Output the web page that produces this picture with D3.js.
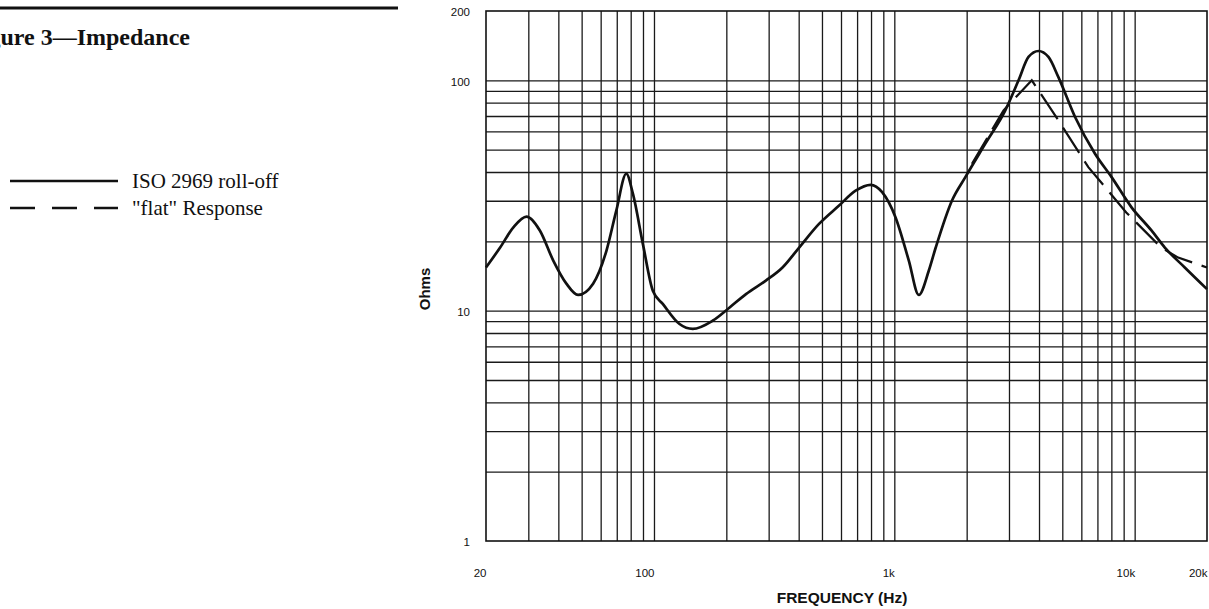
<!DOCTYPE html>
<html>
<head>
<meta charset="utf-8">
<script src="https://cdn.jsdelivr.net/npm/d3@7"></script>
<style>
  body { margin: 0; background: #fff; }
  svg { display: block; }
</style>
</head>
<body>
<div id="chart"></div>
<script>
// impedance curves
const freqSolid = [20, 22.9, 26, 29.5, 33.5, 38.1, 43.2, 48.3, 55.8, 63.4, 69.7, 76.7, 81.7, 89.9, 98.9,
  108.8, 127.7, 145, 175.5, 205.8, 241.4, 292, 342.6, 401.8, 486, 589, 690, 797, 890, 1012, 1149, 1264,
  1391, 1487, 1738, 1975, 2392, 2896, 3288, 3617, 3980, 4378, 4816, 5650, 6841, 8018, 9705, 11746,
  13352, 16162, 20000];
const ohmsSolid = [15.4, 18.8, 23.0, 25.6, 22.3, 16.5, 13.1, 11.7, 13.1, 18.2, 27.2, 39.3, 32.2, 19.5, 12.2,
  10.7, 8.75, 8.33, 9.05, 10.3, 11.8, 13.5, 15.4, 18.8, 23.8, 28.6, 33.2, 35.2, 32.7, 25.4, 16.5, 11.7,
  14.9, 18.8, 30.1, 38.0, 53.1, 74.1, 100, 126.3, 134.1, 126.3, 103.3, 69.3, 48.0, 38.0, 28.1, 22.3,
  18.8, 15.4, 12.4];

const freqFlat = [2104, 2848, 3732, 4816, 6416, 9226, 12888, 15170, 20000];
const ohmsFlat = [43.4, 74.1, 100, 67.0, 42.0, 26.7, 18.8, 17.0, 15.4];

// grid lines and labels
const xGrid = [30, 40, 50, 60, 70, 80, 90, 100, 200, 300, 400, 500, 600, 700, 800, 900, 1000,
  2000, 3000, 4000, 5000, 6000, 7000, 8000, 9000, 10000];
const yGrid = [2, 3, 4, 5, 6, 7, 8, 9, 10, 20, 30, 40, 50, 60, 70, 80, 90, 100];
const xTicks = [20, 100, 1000, 10000, 20000];
const xTickText = ["20", "100", "1k", "10k", "20k"];
const yTicks = [1, 10, 100, 200];

const legendItems = [
  { label: "ISO 2969 roll-off", dash: null },
  { label: "\"flat\" Response", dash: "25,17" }
];

const W = 1209, H = 609;
const margin = {top: 11, right: 2, bottom: 68, left: 486},
  width = W - margin.left - margin.right,
  height = H - margin.top - margin.bottom;

const root = d3.select("#chart").append("svg")
  .attr("width", W)
  .attr("height", H);

// heading rule + title, cut off at the left edge like the scan
root.append("line")
  .attr("x1", 0).attr("x2", 398)
  .attr("y1", 8).attr("y2", 8)
  .attr("stroke", "#111").attr("stroke-width", 3);

root.append("text")
  .attr("x", 190).attr("y", 45)
  .attr("text-anchor", "end")
  .style("font-family", "'Liberation Serif', 'Times New Roman', serif")
  .style("font-weight", "bold")
  .style("font-size", "24px")
  .style("fill", "#111")
  .text("Figure 3\u2014Impedance");

// legend
const legend = root.append("g").attr("transform", "translate(10, 181)");
legendItems.forEach((d, i) => {
  const g = legend.append("g").attr("transform", `translate(0, ${i * 27})`);
  g.append("line")
    .attr("x1", 0).attr("x2", 108)
    .attr("stroke", "#111")
    .attr("stroke-width", 2.6)
    .attr("stroke-dasharray", d.dash);
  g.append("text")
    .attr("x", 122).attr("y", 7)
    .style("font-family", "'Liberation Serif', 'Times New Roman', serif")
    .style("font-size", "21px")
    .style("fill", "#111")
    .text(d.label);
});

const svg = root.append("g")
  .attr("transform", `translate(${margin.left}, ${margin.top})`);

const x = d3.scaleLog().domain([20, 20000]).range([0, width]);
const y = d3.scaleLog().domain([1, 200]).range([height, 0]);

// vertical grid
svg.append("g")
  .attr("class", "xgrid")
  .attr("transform", `translate(0, ${height})`)
  .call(d3.axisBottom(x).tickValues(xGrid).tickSize(-height).tickFormat(""))
  .call(g => g.select(".domain").remove())
  .call(g => g.selectAll("line").attr("stroke", "#1a1a1a").attr("stroke-width", 1.3));

// horizontal grid
svg.append("g")
  .attr("class", "ygrid")
  .call(d3.axisLeft(y).tickValues(yGrid).tickSize(-width).tickFormat(""))
  .call(g => g.select(".domain").remove())
  .call(g => g.selectAll("line").attr("stroke", "#1a1a1a").attr("stroke-width", 1.3));

// frame
svg.append("rect")
  .attr("width", width).attr("height", height)
  .attr("fill", "none")
  .attr("stroke", "#111")
  .attr("stroke-width", 1.6);

// tick labels
svg.append("g")
  .attr("transform", `translate(0, ${height})`)
  .call(d3.axisBottom(x).tickValues(xTicks).tickSize(0).tickPadding(28)
    .tickFormat((d, i) => xTickText[i]))
  .call(g => g.select(".domain").remove())
  .call(g => g.selectAll("text")
    .attr("text-anchor", "end")
    .style("font-family", "'Liberation Sans', Arial, sans-serif")
    .style("font-size", "11.5px")
    .style("fill", "#111"));

svg.append("g")
  .call(d3.axisLeft(y).tickValues(yTicks).tickSize(0).tickPadding(16)
    .tickFormat(d3.format("d")))
  .call(g => g.select(".domain").remove())
  .call(g => g.selectAll("text")
    .attr("dy", "0.42em")
    .style("font-family", "'Liberation Sans', Arial, sans-serif")
    .style("font-size", "11.5px")
    .style("fill", "#111"));

// axis titles
svg.append("text")
  .attr("x", 356).attr("y", height + 62)
  .attr("text-anchor", "middle")
  .style("font-family", "'Liberation Sans', Arial, sans-serif")
  .style("font-weight", "bold")
  .style("font-size", "15.5px")
  .style("fill", "#111")
  .text("FREQUENCY (Hz)");

svg.append("text")
  .attr("transform", `translate(-56, ${278}) rotate(-90)`)
  .attr("text-anchor", "middle")
  .style("font-family", "'Liberation Sans', Arial, sans-serif")
  .style("font-weight", "bold")
  .style("font-size", "15px")
  .style("fill", "#111")
  .text("Ohms");

// curves
const solidLine = d3.line()
  .x(d => x(d[0]))
  .y(d => y(d[1]))
  .curve(d3.curveMonotoneX);

const flatLine = d3.line()
  .x(d => x(d[0]))
  .y(d => y(d[1]));

svg.append("path")
  .datum(d3.zip(freqSolid, ohmsSolid))
  .attr("d", solidLine)
  .attr("fill", "none")
  .attr("stroke", "#111")
  .attr("stroke-width", 2.7)
  .attr("stroke-linejoin", "round");

svg.append("path")
  .datum(d3.zip(freqFlat, ohmsFlat))
  .attr("d", flatLine)
  .attr("fill", "none")
  .attr("stroke", "#111")
  .attr("stroke-width", 2.2)
  .attr("stroke-dasharray", "30,10");
</script>
</body>
</html>
